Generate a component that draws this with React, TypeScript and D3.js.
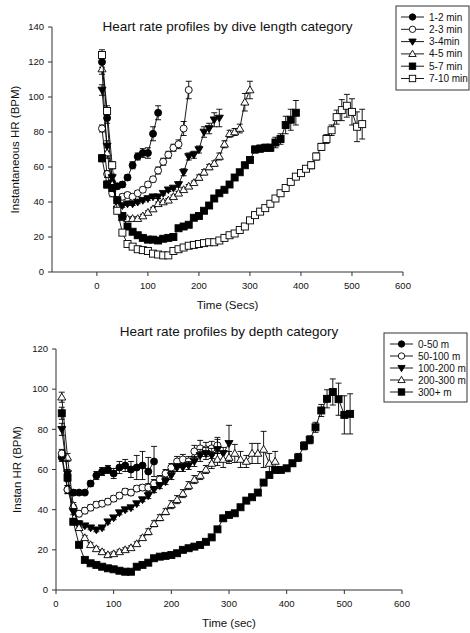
import * as d3 from 'd3';

// time axis (seconds), one sample every 10 s
const TIME_TOP = [
  10, 20, 30, 40, 50, 60, 70, 80, 90, 100, 110, 120, 130, 140, 150, 160, 170, 180, 190, 200,
  210, 220, 230, 240, 250, 260, 270, 280, 290, 300, 310, 320, 330, 340, 350, 360, 370, 380, 390, 400,
  410, 420, 430, 440, 450, 460, 470, 480, 490, 500, 510, 520,
];
const TIME_BOTTOM = TIME_TOP.slice(0, 51);

// --- dive length categories (top panel) ---
const DIVE_LABELS = ['1-2 min', '2-3 min', '3-4min', '4-5 min', '5-7 min', '7-10 min'];
const DIVE_1_2 = [120, 88, 51, 49, 50, 54, 61, 66, 68, 68, 79, 91];
const DIVE_1_2_ERR = [3, 3, 2, 1.5, 1.5, 1.5, 2, 2, 2.5, 3, 4, 4];
const DIVE_2_3 = [82, 56, 45, 41, 43, 44, 43, 45, 47, 50, 53, 58, 63, 67, 71, 73, 82, 104];
const DIVE_2_3_ERR = [2, 2, 2, 1.5, 1.5, 1.5, 1.5, 1.5, 1.5, 1.5, 1.5, 2, 2, 2, 2, 2.5, 4, 5];
const DIVE_3_4 = [104, 72, 54, 36, 38, 39, 39, 40, 41, 42, 43, 43, 45, 47, 48, 50, 57, 66, 67, 70, 80, 82, 87, 88];
const DIVE_3_4_ERR = [3, 3, 2, 1.5, 1, 1, 1, 1, 1, 1, 1, 1, 1, 1, 1, 1.5, 2, 2, 2, 2, 3, 3, 4, 5];
const DIVE_4_5 = [
  116, 68, 50, 38, 31, 30.5, 30.5, 30.5, 32, 34, 36, 39, 40, 41, 43, 45, 47, 49, 51, 54,
  57, 60, 62, 66, 73, 79, 80, 82, 97, 104,
];
const DIVE_4_5_ERR = [
  3, 3, 2, 1.5, 1, 1, 1, 1, 1, 1, 1, 1, 1, 1, 1, 1, 1, 1, 1, 1.5,
  1.5, 1.5, 1.5, 2, 2, 2, 2, 2.5, 5, 5,
];
const DIVE_5_7 = [
  65, 50, 48, 41, 32, 26, 23, 21, 19.5, 18.5, 18.5, 18, 19, 19.5, 20, 25, 26, 27, 31, 32,
  35, 38, 42, 45, 47, 50, 54, 57, 61, 64, 70, 70.5, 71, 71, 74, 76, 84, 87, 91,
];
const DIVE_5_7_ERR = [
  2, 2, 2, 1.5, 1, 1, 1, 1, 1, 1, 1, 1, 1, 1, 1, 1, 1, 1, 1, 1,
  1, 1, 1, 1, 1, 1, 1, 1, 1, 1, 2, 2, 2, 2, 3, 3, 5, 6, 7,
];
const DIVE_7_10 = [
  124, 92, 61, 35, 22.5, 16, 14.5, 13, 12.5, 12, 10.5, 10, 9.5, 9.5, 12, 13, 14, 15, 15.5, 16,
  16.5, 17, 17, 18, 19.5, 21, 22, 24, 26, 29.5, 32.5, 34.5, 36.5, 39, 42, 45, 48, 51.5, 54.5, 56.5,
  59, 61, 66, 71.5, 76, 81, 88.5, 92.5, 95, 91.5, 83, 84.5,
];
const DIVE_7_10_ERR = [
  3, 3, 2, 1.5, 1, 1, 1, 1, 1, 1, 1, 1, 1, 1, 1, 1, 1, 1, 1, 1,
  1, 1, 1, 1, 1, 1, 1, 1, 1, 1, 1, 1, 1, 1, 1, 1, 1, 1, 1.5, 1.5,
  1.5, 2, 2, 2, 2.5, 3, 4, 6, 6.5, 7.5, 8.5, 8.5,
];

// --- depth categories (bottom panel) ---
const DEPTH_LABELS = ['0-50 m', '50-100 m', '100-200 m', '200-300 m', '300+ m'];
const DEPTH_0_50 = [66, 50, 48.5, 48.5, 48.5, 53, 57, 59, 60, 58, 61, 62, 60, 61, 62, 59, 64];
const DEPTH_0_50_ERR = [2, 2, 1.5, 1, 1, 1.5, 2, 2, 2, 2.5, 3, 3, 4, 6, 7, 7, 7.5];
const DEPTH_50_100 = [
  68, 50, 41, 38, 39.5, 41, 42.5, 43, 44, 45.5, 47, 49, 48.5, 50.5, 51, 51, 53, 55, 58, 61,
  64, 65, 64, 69, 70.5, 70, 70.5, 72,
];
const DEPTH_50_100_ERR = [
  2, 2, 1.5, 1.5, 1.5, 1.5, 1.5, 1.5, 1.5, 1.5, 1.5, 1.5, 1.5, 1.5, 1.5, 2, 2, 2, 2, 2,
  2.5, 2.5, 2.5, 3, 4, 3.5, 3.5, 4,
];
const DEPTH_100_200 = [
  80, 58, 39, 33, 32, 31, 30, 31, 34, 36, 38.5, 40, 41, 43, 45, 47, 50, 52, 54, 57,
  61, 61, 62, 64, 67, 68, 67, 70, 68, 73,
];
const DEPTH_100_200_ERR = [
  3, 2, 1.5, 1.5, 1, 1, 1, 1, 1, 1, 1, 1, 1, 1, 1, 1.5, 1.5, 1.5, 1.5, 2,
  2, 2, 2, 2.5, 3, 3, 3.5, 5, 3, 9,
];
const DEPTH_200_300 = [
  96, 66, 42, 31, 26, 22.5, 20.5, 19, 17.5, 18, 19, 20, 21, 23, 26, 29, 33, 36, 39, 42.5,
  45, 48, 52, 55, 57, 60, 63, 65, 65, 66, 68, 65, 64, 68, 68, 70, 63, 64,
];
const DEPTH_200_300_ERR = [
  2.5, 2, 1.5, 1, 1, 1, 1, 1, 1, 1, 1, 1, 1, 1, 1, 1.5, 1.5, 1.5, 1.5, 2,
  2, 2, 2, 2, 2, 2, 2.5, 3, 4, 3, 4.5, 4, 3, 5, 5, 9, 5, 5,
];
const DEPTH_300 = [
  88, 56, 34, 22.5, 15, 13.3, 12.5, 11.6, 10.8, 10.3, 9.6, 9.1, 9.1, 11.6, 12.5, 13.6, 15.8, 16.6, 17, 17.4,
  18.3, 20, 20.8, 21.6, 22.4, 24, 26.2, 30.2, 35.7, 37.4, 38.2, 41.2, 44.5, 46.2, 48.5, 53.5, 57.3, 59.8, 59.8, 60.6,
  63.1, 66, 71.8, 74.8, 81, 89.4, 95.2, 98.6, 95, 87.2, 87.7,
];
const DEPTH_300_ERR = [
  3, 2, 1.5, 1, 1, 1, 1, 1, 1, 1, 1, 1, 1, 1, 1, 1, 1, 1, 1, 1,
  1, 1, 1, 1, 1, 1, 1, 1, 1, 1, 1, 1, 1, 1, 1, 1, 1, 1, 1, 1,
  1.5, 2, 2, 2, 2.5, 3, 4.5, 6.5, 8, 9.5, 10,
];

const X_TICKS = [0, 100, 200, 300, 400, 500, 600];
const Y_TICKS_TOP = [0, 20, 40, 60, 80, 100, 120, 140];
const Y_TICKS_BOTTOM = [0, 20, 40, 60, 80, 100, 120];

type MarkerKind = 'dot' | 'ring' | 'tri-down' | 'tri-up' | 'square' | 'box';

interface Series {
  label: string;
  marker: MarkerKind;
  values: number[];
  errors: number[];
}

const FONT = '"Liberation Sans", Arial, sans-serif';
const INK = '#111';
const AXIS = '#333';

function Marker({ kind, x, y, r = 3.5 }: { kind: MarkerKind; x: number; y: number; r?: number }) {
  const filled = kind === 'dot' || kind === 'tri-down' || kind === 'square';
  const fill = filled ? '#000' : '#fff';
  const common = { fill, stroke: '#000', strokeWidth: 0.9 };
  if (kind === 'dot' || kind === 'ring') return <circle cx={x} cy={y} r={r} {...common} />;
  if (kind === 'square' || kind === 'box')
    return <rect x={x - r} y={y - r} width={r * 2} height={r * 2} {...common} />;
  const t = r * 1.15;
  const pts =
    kind === 'tri-down'
      ? [[x - t, y - t * 0.7], [x + t, y - t * 0.7], [x, y + t]]
      : [[x - t, y + t * 0.7], [x + t, y + t * 0.7], [x, y - t]];
  return <polygon points={pts.map((p) => p.join(',')).join(' ')} {...common} />;
}

interface PanelProps {
  title: string;
  titleY: number;
  xLabel: string;
  xLabelY: number;
  yLabel: string;
  yLabelX: number;
  x: d3.ScaleLinear<number, number>;
  y: d3.ScaleLinear<number, number>;
  yTicks: number[];
  times: number[];
  series: Series[];
  legend: { x: number; y: number; w: number; h: number; row0: number; step: number; lineX: [number, number]; textX: number };
}

function Panel({ title, titleY, xLabel, xLabelY, yLabel, yLabelX, x, y, yTicks, times, series, legend }: PanelProps) {
  const [x0, x1] = x.range();
  const [y0, y1] = y.range();
  const xMid = (x0 + x1) / 2;
  const yMid = (y0 + y1) / 2;
  const line = d3
    .line<number>()
    .x((_, i) => x(times[i]))
    .y((d) => y(d));
  const cap = 3;

  return (
    <g fontFamily={FONT} fill={INK}>
      <text x={xMid} y={titleY} fontSize={13.5} textAnchor="middle">
        {title}
      </text>

      {/* axes */}
      <line x1={x0} x2={x0} y1={y0} y2={y1} stroke={AXIS} />
      <line x1={x0} x2={x1} y1={y0} y2={y0} stroke={AXIS} />
      {yTicks.map((t) => (
        <g key={'y' + t}>
          <line x1={x0 - 4} x2={x0} y1={y(t)} y2={y(t)} stroke={AXIS} />
          <text x={x0 - 8} y={y(t)} dy="0.35em" fontSize={9.5} textAnchor="end">
            {t}
          </text>
        </g>
      ))}
      {X_TICKS.map((t) => (
        <g key={'x' + t}>
          <line x1={x(t)} x2={x(t)} y1={y0} y2={y0 + 4} stroke={AXIS} />
          <text x={x(t)} y={y0 + 17} fontSize={9.5} textAnchor="middle">
            {t}
          </text>
        </g>
      ))}
      <text x={xMid} y={xLabelY} fontSize={11.5} textAnchor="middle">
        {xLabel}
      </text>
      <text
        transform={`translate(${yLabelX},${yMid}) rotate(-90)`}
        fontSize={11.5}
        textAnchor="middle"
      >
        {yLabel}
      </text>

      {/* series */}
      {series.map((s) => (
        <g key={s.label}>
          <path d={line(s.values) ?? ''} fill="none" stroke="#000" strokeWidth={0.9} />
          {s.values.map((v, i) => {
            const cx = x(times[i]);
            const top = y(v + s.errors[i]);
            const bot = y(v - s.errors[i]);
            return (
              <g key={i} stroke="#000" strokeWidth={0.9}>
                <line x1={cx} x2={cx} y1={top} y2={bot} />
                <line x1={cx - cap} x2={cx + cap} y1={top} y2={top} />
                <line x1={cx - cap} x2={cx + cap} y1={bot} y2={bot} />
              </g>
            );
          })}
          {s.values.map((v, i) => (
            <Marker key={'m' + i} kind={s.marker} x={x(times[i])} y={y(v)} />
          ))}
        </g>
      ))}

      {/* legend */}
      <rect x={legend.x} y={legend.y} width={legend.w} height={legend.h} fill="#fff" stroke={AXIS} />
      {series.map((s, i) => {
        const ly = legend.row0 + i * legend.step;
        const mx = (legend.lineX[0] + legend.lineX[1]) / 2;
        return (
          <g key={'l' + s.label}>
            <line x1={legend.lineX[0]} x2={legend.lineX[1]} y1={ly} y2={ly} stroke="#000" strokeWidth={0.9} />
            <Marker kind={s.marker} x={mx} y={ly} r={3.2} />
            <text x={legend.textX} y={ly} dy="0.35em" fontSize={10}>
              {s.label}
            </text>
          </g>
        );
      })}
    </g>
  );
}

export default function App() {
  const diveSeries: Series[] = [
    { label: DIVE_LABELS[0], marker: 'dot', values: DIVE_1_2, errors: DIVE_1_2_ERR },
    { label: DIVE_LABELS[1], marker: 'ring', values: DIVE_2_3, errors: DIVE_2_3_ERR },
    { label: DIVE_LABELS[2], marker: 'tri-down', values: DIVE_3_4, errors: DIVE_3_4_ERR },
    { label: DIVE_LABELS[3], marker: 'tri-up', values: DIVE_4_5, errors: DIVE_4_5_ERR },
    { label: DIVE_LABELS[4], marker: 'square', values: DIVE_5_7, errors: DIVE_5_7_ERR },
    { label: DIVE_LABELS[5], marker: 'box', values: DIVE_7_10, errors: DIVE_7_10_ERR },
  ];
  const depthSeries: Series[] = [
    { label: DEPTH_LABELS[0], marker: 'dot', values: DEPTH_0_50, errors: DEPTH_0_50_ERR },
    { label: DEPTH_LABELS[1], marker: 'ring', values: DEPTH_50_100, errors: DEPTH_50_100_ERR },
    { label: DEPTH_LABELS[2], marker: 'tri-down', values: DEPTH_100_200, errors: DEPTH_100_200_ERR },
    { label: DEPTH_LABELS[3], marker: 'tri-up', values: DEPTH_200_300, errors: DEPTH_200_300_ERR },
    { label: DEPTH_LABELS[4], marker: 'square', values: DEPTH_300, errors: DEPTH_300_ERR },
  ];

  const xTop = d3.scaleLinear([-88, 600], [52, 403]);
  const yTop = d3.scaleLinear([0, 140], [272, 27]);
  const xBot = d3.scaleLinear([0, 600], [56, 402]);
  const yBot = d3.scaleLinear([0, 120], [590, 349]);

  return (
    <div style={{ position: 'absolute', left: 0, top: 0 }}>
      <svg width={470} height={633} style={{ display: 'block', background: '#fff' }}>
        <Panel
          title="Heart rate profiles by dive length category"
          titleY={31}
          xLabel="Time (Secs)"
          xLabelY={309}
          yLabel="Instantaneous HR (BPM)"
          yLabelX={19}
          x={xTop}
          y={yTop}
          yTicks={Y_TICKS_TOP}
          times={TIME_TOP}
          series={diveSeries}
          legend={{ x: 396, y: 6, w: 73, h: 84, row0: 17, step: 12.3, lineX: [401, 424], textX: 429 }}
        />
        <Panel
          title="Heart rate profiles by depth category"
          titleY={336}
          xLabel="Time (sec)"
          xLabelY={627}
          yLabel="Instan HR (BPM)"
          yLabelX={21}
          x={xBot}
          y={yBot}
          yTicks={Y_TICKS_BOTTOM}
          times={TIME_BOTTOM}
          series={depthSeries}
          legend={{ x: 384, y: 333, w: 83, h: 69, row0: 344, step: 12, lineX: [390, 413], textX: 418 }}
        />
      </svg>
    </div>
  );
}
